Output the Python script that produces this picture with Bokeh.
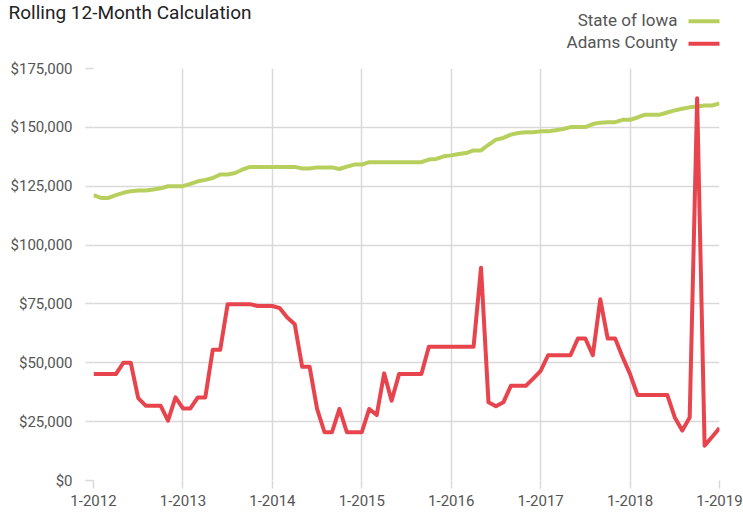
from bokeh.plotting import figure
from bokeh.layouts import column, row
from bokeh.models import FixedTicker, NumeralTickFormatter, Range1d
from bokeh.core.properties import value
from bokeh.embed import file_html
from bokeh.resources import INLINE

title_text = "Rolling 12-Month Calculation"
series_names = ["State of Iowa", "Adams County"]
series_colors = ["#b7cf5c", "#e8444e"]
x_tick_labels = ["1-2012", "1-2013", "1-2014", "1-2015", "1-2016", "1-2017", "1-2018", "1-2019"]
y_ticks = [0, 25000, 50000, 75000, 100000, 125000, 150000, 175000]

# Monthly values, Jan 2012 .. Jan 2019
iowa = [
    121200, 120000, 120000, 121200, 122200, 122900, 123200, 123200, 123600, 124100, 125000, 125000,
    125000, 126000, 127100, 127700, 128500, 130000, 130000, 130600, 132100, 133200, 133200, 133200,
    133200, 133200, 133200, 133200, 132500, 132500, 133000, 133000, 133000, 132300, 133300, 134200,
    134200, 135200, 135200, 135200, 135200, 135200, 135200, 135200, 135200, 136300, 136600, 137700,
    138100, 138700, 139100, 140200, 140200, 142600, 144800, 145500, 146900, 147600, 147900, 147900,
    148300, 148300, 148800, 149300, 150100, 150100, 150100, 151400, 152000, 152200, 152200, 153200,
    153200, 154200, 155400, 155400, 155400, 156300, 157200, 157900, 158500, 158900, 159300, 159300,
    160200,
]
adams = [
    45200, 45200, 45200, 45200, 50000, 50000, 35000, 31800, 31800, 31800, 25400, 35300,
    30600, 30600, 35300, 35300, 55500, 55500, 74900, 74900, 74900, 74900, 74100, 74100,
    74100, 73200, 69200, 66400, 48300, 48300, 30400, 20500, 20500, 30400, 20500, 20500,
    20500, 30400, 27800, 45500, 33900, 45200, 45200, 45200, 45200, 56800, 56800, 56800,
    56800, 56800, 56800, 56800, 90400, 33200, 31500, 33200, 40200, 40200, 40200, 43300,
    46600, 53200, 53200, 53200, 53200, 60300, 60300, 53200, 77000, 60300, 60300, 52400,
    45200, 36300, 36300, 36300, 36300, 36300, 26800, 21200, 26800, 162400, 14800, 18500,
    22300,
]
months = list(range(len(iowa)))
x_ticks = [12 * i for i in range(len(x_tick_labels))]

FONT = "Roboto"
GRID = "#d9d9d9"
W = 743
HEAD_H = 58

# ---- header: title + legend (pixel coordinates, y downward) ----
head = figure(width=W, height=HEAD_H, output_backend="svg", toolbar_location=None,
              x_axis_location=None, y_axis_location=None, min_border=0,
              x_range=Range1d(0, W), y_range=Range1d(HEAD_H, 0))
head.outline_line_color = None
head.grid.visible = False
head.text(x=[8], y=[12.2], text=[title_text], text_font=value(FONT), text_font_size="19px",
          text_color="#222222", text_align="left", text_baseline="middle")
legend_text_y = [19, 41.7]
legend_line_y = [20.7, 43.3]
head.text(x=[677, 677], y=legend_text_y, text=series_names, text_font=value(FONT),
          text_font_size="17px", text_color="#555555", text_align="right",
          text_baseline="middle")
head.segment(x0=[688, 688], x1=[719, 719], y0=legend_line_y, y1=legend_line_y,
             line_color=series_colors, line_width=4, line_cap="butt")

# ---- main chart ----
p = figure(width=W, height=515 - HEAD_H, output_backend="svg", toolbar_location=None,
           min_border_left=93, min_border_right=24, min_border_top=10, min_border_bottom=35,
           x_range=Range1d(x_ticks[0], x_ticks[-1]), y_range=Range1d(y_ticks[0], y_ticks[-1]))
p.outline_line_color = None

p.xaxis.ticker = FixedTicker(ticks=x_ticks)
p.xaxis.major_label_overrides = {t: l for t, l in zip(x_ticks, x_tick_labels)}
p.yaxis.ticker = FixedTicker(ticks=y_ticks)
p.yaxis.formatter = NumeralTickFormatter(format="$0,0")
p.xgrid.ticker = FixedTicker(ticks=x_ticks)
p.ygrid.ticker = FixedTicker(ticks=y_ticks)
for g in (p.xgrid, p.ygrid):
    g.grid_line_color = GRID
    g.grid_line_width = 1.5
for ax in (p.xaxis, p.yaxis):
    ax.axis_line_color = None
    ax.major_tick_in = 0
    ax.major_tick_out = 8
    ax.major_tick_line_color = GRID
    ax.major_tick_line_width = 1.5
    ax.minor_tick_line_color = None
    ax.major_label_text_font = FONT
    ax.major_label_text_font_size = "15px"
    ax.major_label_text_color = "#555555"
p.xaxis.major_label_standoff = 6
p.yaxis.major_label_standoff = 13

p.line(months, iowa, line_color=series_colors[0], line_width=4, line_join="round")
p.line(months, adams, line_color=series_colors[1], line_width=4, line_join="round")

layout = column(row(head, spacing=0), p, spacing=0)
open("out.html", "w").write(file_html(layout, INLINE))
